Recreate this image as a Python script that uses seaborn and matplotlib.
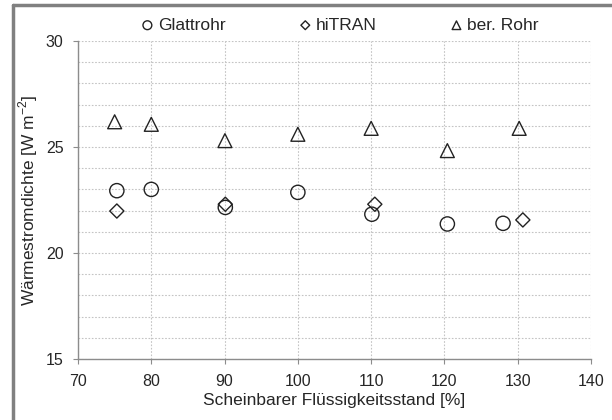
import matplotlib
matplotlib.use("Agg")
import matplotlib.pyplot as plt
from matplotlib.lines import Line2D
from matplotlib.ticker import MultipleLocator
import pandas as pd
import seaborn as sns

# data
glatt_x = [75.3, 80.0, 90.1, 100.0, 110.1, 120.4, 128.0]
glatt_y = [22.94, 23.0, 22.15, 22.86, 21.83, 21.37, 21.4]

hitran_x = [75.3, 90.1, 110.5, 130.7]
hitran_y = [21.98, 22.3, 22.3, 21.56]

rohr_x = [75.0, 80.0, 90.05, 100.0, 110.0, 120.4, 130.2]
rohr_y = [26.19, 26.07, 25.3, 25.6, 25.88, 24.83, 25.88]

series_names = ["Glattrohr", "hiTRAN", "ber. Rohr"]

sns.set_style("white")
plt.rcParams["font.family"] = ["Liberation Sans", "DejaVu Sans"]
plt.rcParams["mathtext.fontset"] = "custom"
plt.rcParams["mathtext.rm"] = "Liberation Sans"

df = pd.concat([
    pd.DataFrame({"x": glatt_x, "y": glatt_y, "serie": series_names[0]}),
    pd.DataFrame({"x": hitran_x, "y": hitran_y, "serie": series_names[1]}),
    pd.DataFrame({"x": rohr_x, "y": rohr_y, "serie": series_names[2]}),
])

fig = plt.figure(figsize=(6.12, 4.2), dpi=100)
ax = fig.add_axes([78 / 612, 1 - 359 / 420, (591 - 78) / 612, (359 - 41) / 420])

markers = {"Glattrohr": "o", "hiTRAN": "D", "ber. Rohr": "^"}
sizes = {"Glattrohr": 105, "hiTRAN": 52, "ber. Rohr": 100}
for name in series_names:
    sub = df[df["serie"] == name]
    sns.scatterplot(data=sub, x="x", y="y", ax=ax, marker=markers[name],
                    s=sizes[name], facecolor="none", edgecolor="#222222",
                    linewidth=1.0, label=name, zorder=3)

ax.set_xlim(70, 140)
ax.set_ylim(15, 30)
ax.xaxis.set_major_locator(MultipleLocator(10))
ax.yaxis.set_major_locator(MultipleLocator(5))
ax.yaxis.set_minor_locator(MultipleLocator(1))
ax.grid(which="major", color="#c4c4c4", linestyle=(0, (1.5, 1.5)), linewidth=0.8)
ax.grid(which="minor", axis="y", color="#c4c4c4", linestyle=(0, (1.5, 1.5)), linewidth=0.8)

for side in ["top", "right"]:
    ax.spines[side].set_visible(False)
for side in ["left", "bottom"]:
    ax.spines[side].set_color("#8c8c8c")
    ax.spines[side].set_linewidth(1.0)

ax.tick_params(axis="both", which="major", direction="out", length=3.5,
               color="#8c8c8c", labelsize=11.5, pad=7)
ax.tick_params(axis="y", which="minor", length=0)
ax.tick_params(axis="x", which="major", bottom=True)
ax.tick_params(axis="y", which="major", left=True)

ax.set_xlabel("Scheinbarer Flüssigkeitsstand [%]", fontsize=12.5, labelpad=3)
ax.set_ylabel(r"Wärmestromdichte [W m$^{\mathregular{-2}}$]", fontsize=12.5, labelpad=4)

handles, labels = ax.get_legend_handles_labels()
ax.legend_.remove()
fig.legend(handles, labels, loc="center", bbox_to_anchor=(0.556, 0.94), ncol=3,
           frameon=False, fontsize=12.5, markerscale=0.62, handlelength=0.6,
           handletextpad=0.3, columnspacing=4.3)

# outer frame
fig.add_artist(Line2D([13 / 612, 13 / 612], [0, 1 - 5 / 420], transform=fig.transFigure,
                      color="#808080", linewidth=2.5))
fig.add_artist(Line2D([13 / 612, 1], [1 - 5 / 420, 1 - 5 / 420], transform=fig.transFigure,
                      color="#808080", linewidth=2.5))

fig.savefig("out.png", dpi=100)
